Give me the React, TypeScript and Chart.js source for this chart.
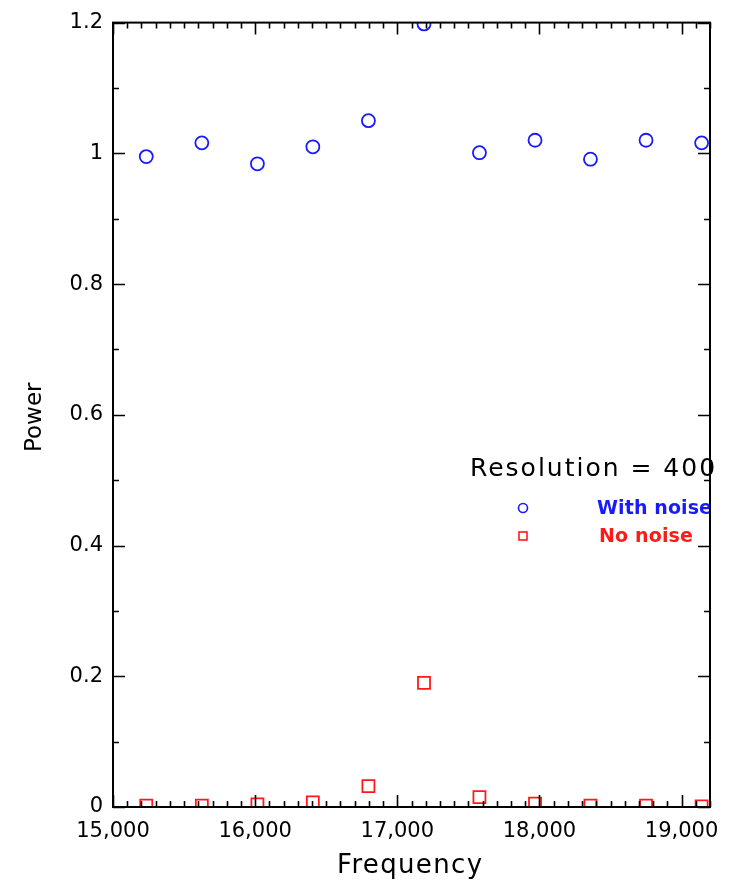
import React, { useEffect, useRef } from "react";
import { Chart, registerables } from "chart.js";

Chart.register(...registerables);

const frequencies = [15234, 15625, 16016, 16406, 16797, 17188, 17578, 17969, 18359, 18750, 19141];
const withNoise = [0.995, 1.016, 0.984, 1.01, 1.05, 1.198, 1.001, 1.02, 0.991, 1.02, 1.016];
const noNoise = [0.002, 0.002, 0.004, 0.007, 0.032, 0.19, 0.015, 0.005, 0.002, 0.002, 0.001];

const xMin = 15000;
const xMax = 19200;
const yMin = 0;
const yMax = 1.2;
const xMajorTicks = [15000, 16000, 17000, 18000, 19000];
const yMajorTicks = [0, 0.2, 0.4, 0.6, 0.8, 1.0, 1.2];
const xTitle = "Frequency";
const yTitle = "Power";
const legendTitle = "Resolution = 400";
const seriesNames = ["With noise", "No noise"];
const BLUE = "#1a1aff";
const RED = "#ff1a1a";

const fmtThousands = (v: number) => {
  const s = Math.round(v).toString();
  return s.replace(/\B(?=(\d{3})+(?!\d))/g, ",");
};

function fitText(ctx: any, text: string, x: number, y: number, width: number) {
  ctx.letterSpacing = "0px";
  const w = ctx.measureText(text).width;
  const ls = (width - w) / Math.max(1, text.length - 1);
  ctx.letterSpacing = ls.toFixed(2) + "px";
  ctx.textAlign = "left";
  ctx.fillText(text, x, y);
  ctx.letterSpacing = "0px";
}

const framePlugin = {
  id: "frame",
  afterDraw(chart: any) {
    const { ctx, chartArea } = chart;
    const xs = chart.scales.x;
    const ys = chart.scales.y;
    const { left, right, top, bottom } = chartArea;
    ctx.save();
    // axis titles
    ctx.fillStyle = "#000";
    ctx.textBaseline = "alphabetic";
    ctx.font = "26px 'DejaVu Sans'";
    fitText(ctx, xTitle, 337, 873, 145);
    ctx.save();
    ctx.translate(41, 452);
    ctx.rotate(-Math.PI / 2);
    ctx.font = "23px 'DejaVu Sans'";
    ctx.textAlign = "left";
    ctx.fillText(yTitle, 0, 0);
    ctx.restore();
    // legend
    ctx.font = "25px 'DejaVu Sans'";
    ctx.fillStyle = "#000";
    fitText(ctx, legendTitle, 470, 476, 245);
    ctx.lineWidth = 1.6;
    ctx.strokeStyle = BLUE;
    ctx.beginPath();
    ctx.arc(523, 508, 4.5, 0, Math.PI * 2);
    ctx.stroke();
    ctx.strokeStyle = RED;
    ctx.strokeRect(519, 532, 8, 8);
    ctx.font = "bold 19px 'DejaVu Sans'";
    ctx.fillStyle = BLUE;
    fitText(ctx, seriesNames[0], 597, 514, 115);
    ctx.fillStyle = RED;
    fitText(ctx, seriesNames[1], 599, 542, 94);
    // frame
    ctx.strokeStyle = "#000";
    ctx.lineWidth = 2;
    ctx.strokeRect(left, top, right - left, bottom - top);
    ctx.lineWidth = 1.6;
    for (let v = xMin; v <= xMax + 1e-6; v += 100) {
      const major = Math.round(v) % 1000 === 0;
      const len = major ? 12 : 6;
      const px = Math.round(xs.getPixelForValue(v)) + 0.5;
      ctx.beginPath();
      ctx.moveTo(px, bottom);
      ctx.lineTo(px, bottom - len);
      ctx.moveTo(px, top);
      ctx.lineTo(px, top + len);
      ctx.stroke();
    }
    for (let i = 0; i <= 12; i++) {
      const v = i / 10;
      const major = i % 2 === 0;
      const len = major ? 12 : 6;
      const py = Math.round(ys.getPixelForValue(v)) + 0.5;
      ctx.beginPath();
      ctx.moveTo(left, py);
      ctx.lineTo(left + len, py);
      ctx.moveTo(right, py);
      ctx.lineTo(right - len, py);
      ctx.stroke();
    }
    ctx.restore();
  },
};

export default function App() {
  const ref = useRef<HTMLCanvasElement | null>(null);
  useEffect(() => {
    if (!ref.current) return;
    const chart = new Chart(ref.current, {
      type: "scatter",
      data: {
        datasets: [
          {
            label: seriesNames[0],
            data: frequencies.map((f, i) => ({ x: f, y: withNoise[i] })),
            pointStyle: "circle",
            pointRadius: 6.5,
            borderColor: BLUE,
            backgroundColor: "rgba(0,0,0,0)",
            borderWidth: 1.8,
          },
          {
            label: seriesNames[1],
            data: frequencies.map((f, i) => ({ x: f, y: noNoise[i] })),
            pointStyle: "rect",
            pointRadius: 8.5,
            borderColor: RED,
            backgroundColor: "rgba(0,0,0,0)",
            borderWidth: 1.8,
          },
        ],
      },
      options: {
        responsive: false,
        animation: false,
        layout: { padding: { top: 17, right: 33, left: 0, bottom: 0 } },
        plugins: { legend: { display: false }, tooltip: { enabled: false } },
        scales: {
          x: {
            type: "linear",
            min: xMin,
            max: xMax,
            grid: { display: false, drawTicks: false },
            border: { display: false },
            afterFit: (s: any) => {
              s.height = 87;
            },
            afterBuildTicks: (s: any) => {
              s.ticks = xMajorTicks.map((v) => ({ value: v }));
            },
            ticks: {
              autoSkip: false,
              maxRotation: 0,
              padding: 12,
              color: "#000",
              font: { family: "'DejaVu Sans'", size: 21 },
              callback: (v: any) => fmtThousands(Number(v)),
            },
          },
          y: {
            type: "linear",
            min: yMin,
            max: yMax,
            grid: { display: false, drawTicks: false },
            border: { display: false },
            afterFit: (s: any) => {
              s.width = 113;
            },
            afterBuildTicks: (s: any) => {
              s.ticks = yMajorTicks.map((v) => ({ value: v }));
            },
            ticks: {
              autoSkip: false,
              padding: 10,
              color: "#000",
              font: { family: "'DejaVu Sans'", size: 21 },
              callback: (v: any) => String(Number(Number(v).toFixed(1))),
            },
          },
        },
      },
      plugins: [framePlugin],
    } as any);
    return () => chart.destroy();
  }, []);
  return (
    <div style={{ position: "absolute", left: 0, top: 0, width: 743, height: 894, background: "#fff" }}>
      <canvas ref={ref} width={743} height={894} style={{ display: "block" }} />
    </div>
  );
}
